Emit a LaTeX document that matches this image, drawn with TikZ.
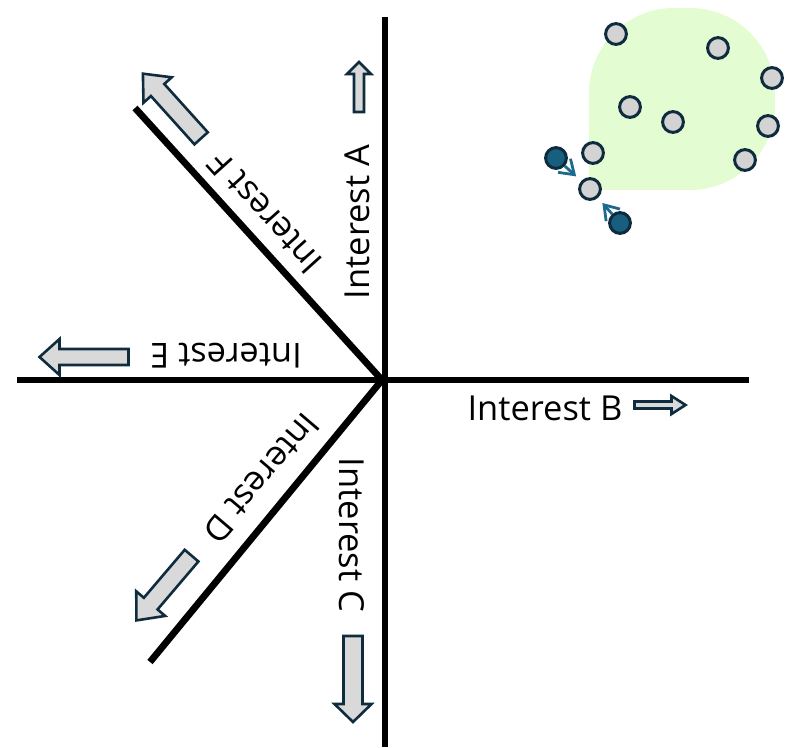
\documentclass[tikz,border=0pt]{standalone}
\usepackage{fontspec}
\setmainfont{Open Sans}
\usetikzlibrary{arrows.meta}

\definecolor{arrowgray}{HTML}{D9D9D9}
\definecolor{navyline}{HTML}{0E2C3E}
\definecolor{ptgray}{HTML}{D3D3D3}
\definecolor{ptdark}{HTML}{175E7F}
\definecolor{pullblue}{HTML}{1E6A8C}
\definecolor{blobgreen}{HTML}{E3FCD2}

\tikzset{
  pics/blockarrow/.style n args={4}{code={%
    \draw[arrowbox] (-#1/2,-#2/2) -- (#1/2-#4,-#2/2) -- (#1/2-#4,-#3/2) -- (#1/2,0)
      -- (#1/2-#4,#3/2) -- (#1/2-#4,#2/2) -- (-#1/2,#2/2) -- cycle;
  }}
}

\begin{document}
\begin{tikzpicture}[x=0.025cm, y=0.025cm,
    axis/.style={line width=0.17cm, line join=miter},
    lbl/.style={inner sep=0pt, font=\fontsize{24.5}{30}\selectfont},
    arrowbox/.style={fill=arrowgray, draw=navyline, line width=0.065cm, line join=miter},
    pt/.style={circle, minimum size=0.52cm, inner sep=0pt, fill=ptgray, draw=navyline, line width=0.075cm},
    ptlead/.style={pt, fill=ptdark},
    pull/.style={pullblue, line width=0.07cm, -{Straight Barb[length=0.34cm, width=0.46cm]}, shorten >=0.17cm}]
  \useasboundingbox (0,0) rectangle (786,-747);

  % group of points
  \fill[blobgreen] (589,-190) -- (589,-93) arc[start angle=180, end angle=90, radius=85]
    -- (690,-8) arc[start angle=90, end angle=0, radius=85]
    -- (775,-105) arc[start angle=0, end angle=-90, radius=85] -- cycle;

  % axes
  \coordinate (o) at (382,-380);
  \coordinate (top) at (385,-17);
  \coordinate (bottom) at (385,-747);
  \coordinate (west) at (17,-380);
  \coordinate (east) at (749,-380);
  \coordinate (nw) at (135,-108);
  \coordinate (sw) at (150,-662);
  \draw[axis] (top) -- (bottom);
  \draw[axis] (west) -- (east);
  \draw[axis] (nw) -- (o) -- (sw);

  % axis labels
  \node[lbl, rotate=90] (intA) at (357,-222) {Interest A};
  \node[lbl] (intB) at (545,-408) {Interest B};
  \node[lbl, rotate=-90] (intC) at (352,-535) {Interest C};
  \node[lbl, rotate=229.6] (intD) at (262,-478) {Interest D};
  \node[lbl, rotate=180] (intE) at (226,-356) {Interest E};
  \node[lbl, rotate=132] (intF) at (265,-213) {Interest F};

  % direction arrows
  \pic[rotate=90] at (359,-87) {blockarrow={50}{10}{24}{12}};
  \pic at (660,-405) {blockarrow={51}{7}{18}{14}};
  \pic[rotate=-90] at (353,-679) {blockarrow={86}{19}{37}{18}};
  \pic[rotate=229.6] at (164,-588) {blockarrow={85}{18}{38}{22}};
  \pic[rotate=180] at (84,-357) {blockarrow={89}{16}{36}{20}};
  \pic[rotate=132] at (172,-106) {blockarrow={87}{18}{38}{22}};

  % points
  \node[pt] (p1) at (616,-34) {};
  \node[pt] (p2) at (718,-48) {};
  \node[pt] (p3) at (772,-78) {};
  \node[pt] (p4) at (630,-107) {};
  \node[pt] (p5) at (673,-122) {};
  \node[pt] (p6) at (768,-126) {};
  \node[pt] (p7) at (593,-153) {};
  \node[pt] (p8) at (745,-160) {};
  \node[pt] (p9) at (590,-189) {};
  \node[ptlead] (q1) at (556,-158) {};
  \node[ptlead] (q2) at (620,-223) {};

  \draw[pull] (q1) -- (p9);
  \draw[pull] (q2) -- (p9);
\end{tikzpicture}
\end{document}
